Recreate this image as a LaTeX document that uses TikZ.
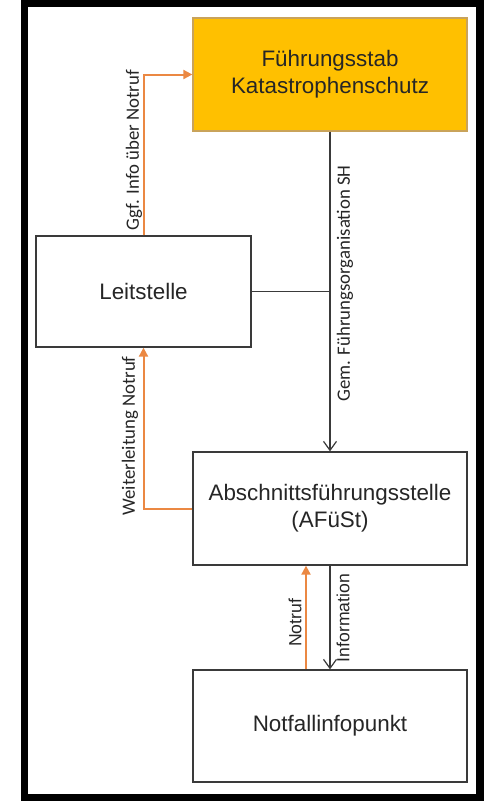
\documentclass[tikz,border=0pt]{standalone}
\usepackage{fontspec}
\setmainfont{Liberation Sans}
\newfontfamily\carlitofont{Carlito}
\usetikzlibrary{arrows.meta,calc}
\definecolor{goldfill}{HTML}{FFC000}
\definecolor{goldedge}{HTML}{C9A35A}
\definecolor{arrorange}{HTML}{EB8843}
\definecolor{boxedge}{HTML}{3A3A3A}
\definecolor{txt}{HTML}{262626}
\begin{document}
\begin{tikzpicture}[x=1pt,y=-1pt,
  box/.style={draw=boxedge,line width=1.3pt,fill=white,minimum width=274pt,minimum height=113pt,inner sep=0pt,align=center,text=txt,font=\fontsize{22.4pt}{27pt}\selectfont},
  goldbox/.style={box,fill=goldfill,draw=goldedge},
  orangearrow/.style={draw=arrorange,line width=2pt,-{Triangle[length=9pt,width=9pt]}},
  blackarrow/.style={draw=boxedge,line width=1.2pt,-{Straight Barb[length=9pt,width=13pt,line width=1.2pt]}},
  blackline/.style={draw=boxedge,line width=1.2pt},
  lbl/.style={rotate=90,text=txt,inner sep=0pt,font=\carlitofont\fontsize{18.8pt}{22pt}\selectfont},
  lbla/.style={rotate=90,text=txt,inner sep=0pt,font=\fontsize{17.6pt}{21pt}\selectfont}]
\useasboundingbox (0,0) rectangle (486,801);
\fill[white] (0,0) rectangle (486,801);
\draw[line width=7.5pt] (24.5,3.5) rectangle (480,797.5);

\node[goldbox] (fks) at (330,74.5) {Führungsstab\\Katastrophenschutz};
\node[box,minimum width=215pt,minimum height=111pt] (leit) at (143.5,291.5) {Leitstelle};
\node[box] (afu) at (330,508.5) {Abschnittsführungsstelle\\(AFüSt)};
\node[box,minimum height=112pt] (nfp) at (330,726) {Notfallinfopunkt};

% connectors
\draw[orangearrow] (leit.north) |- (fks.west);
\draw[blackarrow] (fks.south) -- (afu.north);
\draw[blackline] (leit.east) -- (leit.east -| fks.south);
\draw[orangearrow] (afu.west) -| (leit.south);
\draw[orangearrow] ([xshift=-24pt]nfp.north) -- ([xshift=-24pt]afu.south);
\draw[blackarrow] (afu.south) -- (nfp.north);

% labels
\node[lbl] (l1) at (134,150) {Ggf. Info über Notruf};
\node[lbl] (l2) at (345,283.5) {Gem. Führungsorganisation SH};
\node[lbl] (l3) at (130,436) {Weiterleitung Notruf};
\node[lbla] (l4) at (295,623) {Notruf};
\node[lbla] (l5) at (343,618) {Information};
\end{tikzpicture}
\end{document}
